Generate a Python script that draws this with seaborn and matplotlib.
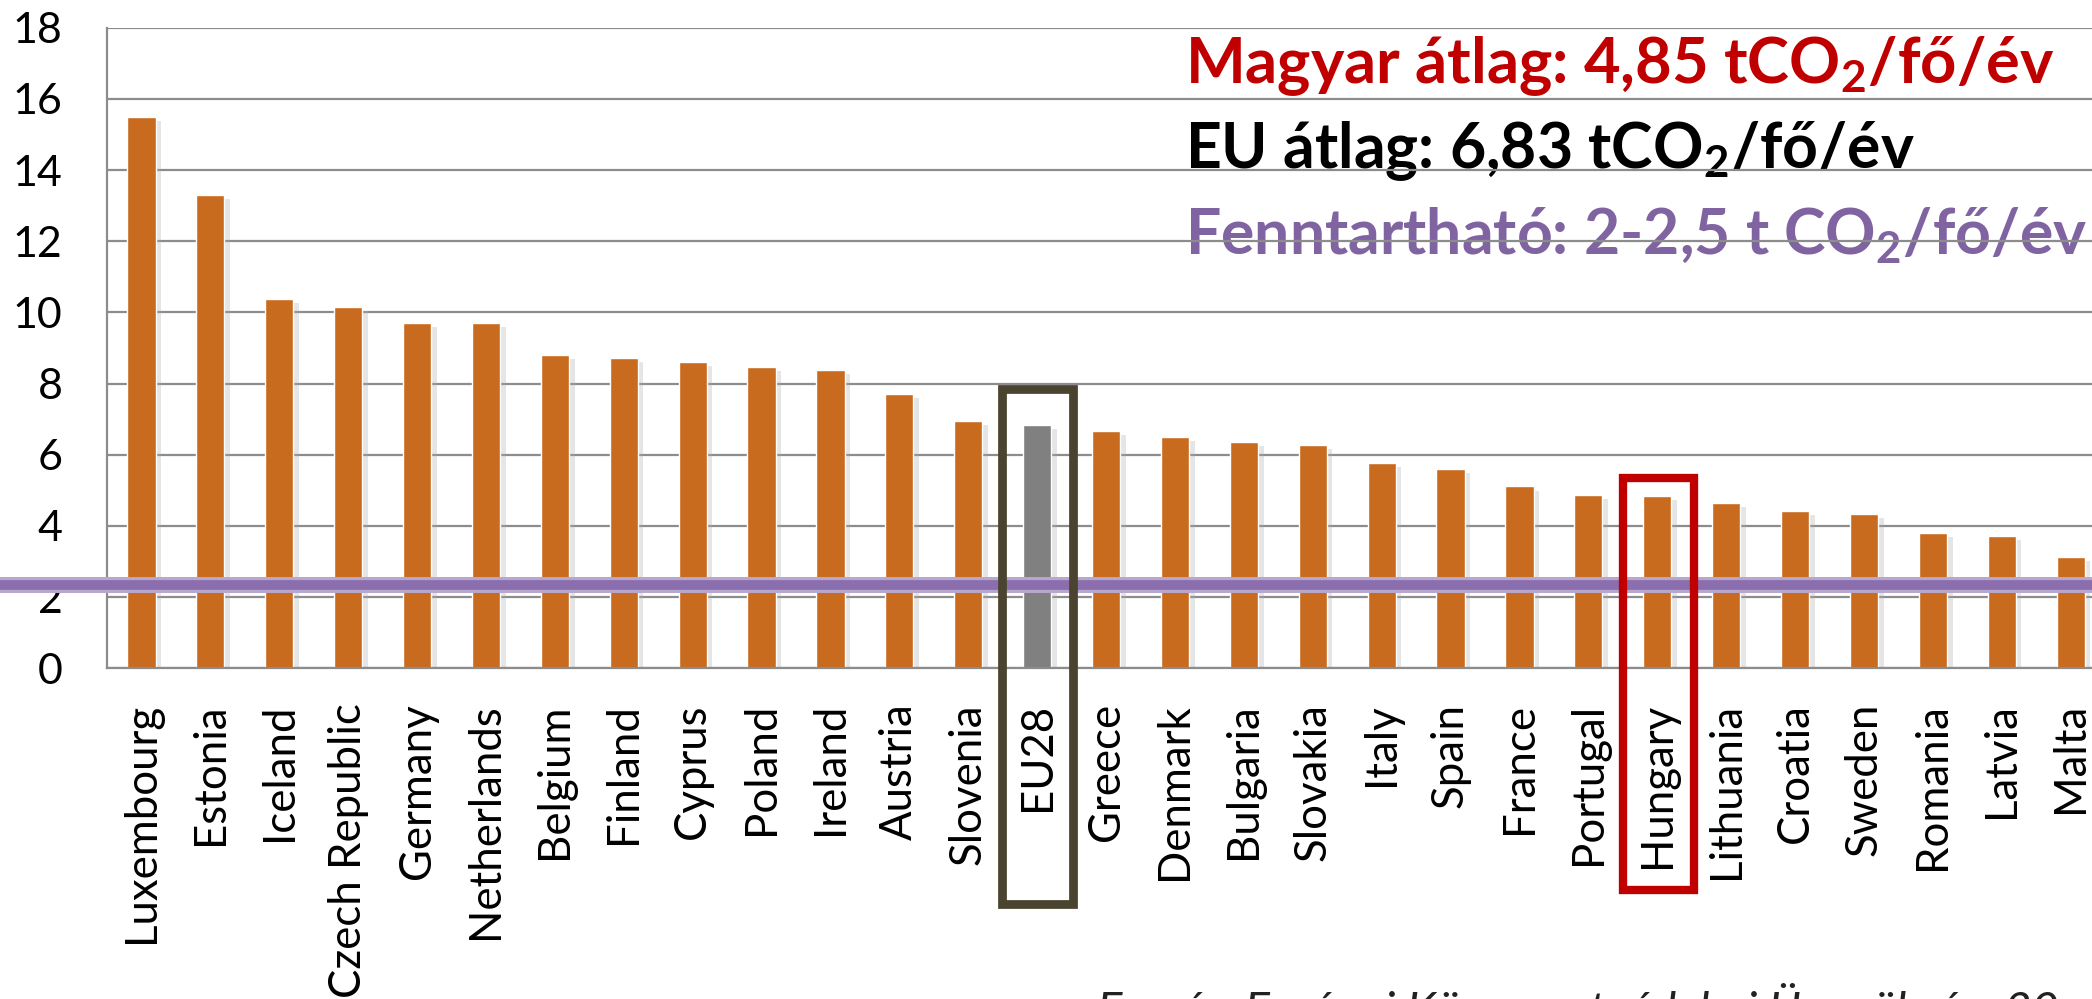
import seaborn as sns
import matplotlib.pyplot as plt
import matplotlib.patheffects as pe
from matplotlib.patches import Rectangle
import pandas as pd

countries = ['Luxembourg', 'Estonia', 'Iceland', 'Czech Republic', 'Germany', 'Netherlands',
             'Belgium', 'Finland', 'Cyprus', 'Poland', 'Ireland', 'Austria', 'Slovenia', 'EU28',
             'Greece', 'Denmark', 'Bulgaria', 'Slovakia', 'Italy', 'Spain', 'France', 'Portugal',
             'Hungary', 'Lithuania', 'Croatia', 'Sweden', 'Romania', 'Latvia', 'Malta']
emissions = [15.49, 13.30, 10.37, 10.15, 9.70, 9.70,
             8.81, 8.72, 8.60, 8.48, 8.39, 7.71, 6.95, 6.83,
             6.67, 6.51, 6.37, 6.28, 5.78, 5.61, 5.11, 4.87,
             4.85, 4.64, 4.42, 4.34, 3.81, 3.72, 3.13]
yticks = list(range(0, 19, 2))
sustainable = 2.33
eu_box_top = 7.84
hu_box_top = 5.34

title_hu = 'Magyar átlag: 4,85 tCO$_2$/fő/év'
title_eu = 'EU átlag: 6,83 tCO$_2$/fő/év'
title_sus = 'Fenntartható: 2-2,5 t CO$_2$/fő/év'
source = 'Forrás: Európai Környezetvédelmi Ügynökség, 20'

sns.set_theme(style='white')
plt.rcParams['font.family'] = ['Lato', 'DejaVu Sans']
plt.rcParams['mathtext.default'] = 'regular'

W, H = 2092, 999
fig = plt.figure(figsize=(W / 100, H / 100), dpi=100)
ax = fig.add_axes([107 / W, 1 - 668.3 / H, 29 * 68.9 / W, 640.6 / H])

df = pd.DataFrame({'country': countries, 'value': emissions})
palette = {c: ('#808080' if c == 'EU28' else '#C96B1E') for c in countries}
sns.barplot(data=df, x='country', y='value', hue='country', palette=palette,
            saturation=1, width=0.41, legend=False, ax=ax, zorder=2)
for bar in ax.patches:
    bar.set_path_effects([pe.SimplePatchShadow(offset=(4, -3), shadow_rgbFace='#aaaaaa', alpha=0.3),
                          pe.Normal()])

ax.set_ylim(0, 18)
ax.set_xlim(-0.5, len(countries) - 0.5)
ax.set_yticks(yticks)
ax.set_xlabel('')
ax.set_ylabel('')
ax.set_axisbelow(True)
ax.yaxis.grid(True, color='#8C8C8C', lw=1.6)
for side in ['top', 'right']:
    ax.spines[side].set_visible(False)
for side in ['left', 'bottom']:
    ax.spines[side].set_color('#8C8C8C')
    ax.spines[side].set_linewidth(1.6)
ax.tick_params(axis='y', length=0, pad=32, labelsize=31, labelcolor='black')
ax.tick_params(axis='x', length=0, pad=25, labelsize=31.5, labelcolor='black')
plt.setp(ax.get_xticklabels(), rotation=90)

# sustainable level line across the whole width
ax.axhline(sustainable, xmin=-0.06, xmax=1, color='#B8A7CD', lw=11.5, clip_on=False, zorder=6)
ax.axhline(sustainable, xmin=-0.06, xmax=1, color='#8A6EAE', lw=7, clip_on=False, zorder=7)

# highlight boxes
i_eu = countries.index('EU28')
ax.add_patch(Rectangle((i_eu - 0.517, -6.63), 1.034, eu_box_top + 6.63, fill=False,
                       ec='#4A4330', lw=6.3, clip_on=False, zorder=8))
i_hu = countries.index('Hungary')
ax.add_patch(Rectangle((i_hu - 0.49, -6.22), 1.03, hu_box_top + 6.22, fill=False,
                       ec='#C00000', lw=6, clip_on=False, zorder=8))

x0 = 1185 / W
ax.text(x0, 1 - 83 / H, title_hu, transform=fig.transFigure, fontsize=45.5, weight='bold',
        color='#C00000', va='baseline', zorder=0.3)
ax.text(x0, 1 - 168 / H, title_eu, transform=fig.transFigure, fontsize=45, weight='bold',
        color='black', va='baseline', zorder=0.3)
ax.text(x0, 1 - 254 / H, title_sus, transform=fig.transFigure, fontsize=45, weight='bold',
        color='#8064A2', va='baseline', zorder=0.3)

fig.text(1097 / W, 1 - 983 / H, source, fontsize=34, style='italic', color='#222222', va='top')

fig.savefig('out.png', dpi=100)
